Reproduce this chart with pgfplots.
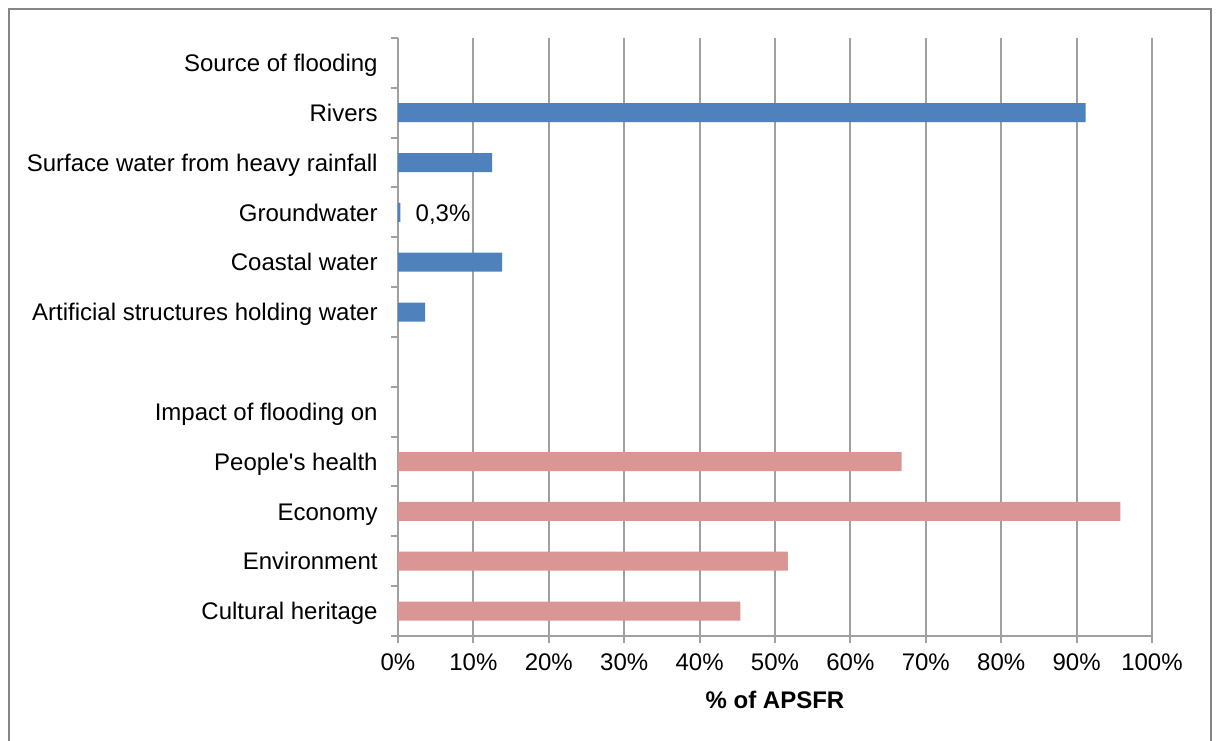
\documentclass[border=0pt]{standalone}
\usepackage{fontspec}
\setmainfont{Liberation Sans}
\usepackage{pgfplots}
\pgfplotsset{compat=1.18}
\definecolor{barblue}{RGB}{79,129,189}
\definecolor{barpink}{RGB}{217,150,148}
\definecolor{gridgray}{RGB}{160,160,160}
\definecolor{framegray}{RGB}{134,134,134}
\begin{document}
\begin{tikzpicture}
\useasboundingbox (0,0) rectangle (608.5pt,370pt);
\draw[framegray, line width=1pt] (4.5pt,-2pt) -- (4.5pt,365.25pt) -- (605.5pt,365.25pt) -- (605.5pt,-2pt);
\begin{axis}[
  at={(199pt,52pt)}, anchor=south west,
  scale only axis, width=377pt, height=299pt,
  xmin=0, xmax=100, ymin=-0.5, ymax=11.5,
  axis x line*=bottom, axis y line*=left,
  axis line style={gridgray, line width=1pt},
  xtick={0,10,...,100},
  xticklabels={0\%,10\%,20\%,30\%,40\%,50\%,60\%,70\%,80\%,90\%,100\%},
  minor xtick={0,10,...,100},
  ytick={0,1,...,11},
  yticklabels={Cultural heritage, Environment, Economy, People\textquotesingle s health, Impact of flooding on, {}, Artificial structures holding water, Coastal water, Groundwater, Surface water from heavy rainfall, Rivers, Source of flooding},
  minor ytick={-0.5,0.5,1.5,2.5,3.5,4.5,5.5,6.5,7.5,8.5,9.5,10.5,11.5},
  major tick length=0pt, minor tick length=3.5pt,
  tick align=outside,
  tick style={gridgray, line width=1pt},
  minor tick style={gridgray, line width=1pt},
  xmajorgrids, major grid style={gridgray, line width=1pt},
  xticklabel style={anchor=base, inner sep=0pt, yshift=-17.5pt, font=\fontsize{12}{14}\selectfont},
  yticklabel style={anchor=east, inner sep=0pt, xshift=-10pt, text height=8.6pt, text depth=0pt, font=\fontsize{12}{14}\selectfont},
  xlabel={\% of APSFR},
  xlabel style={at={(axis description cs:0.5,0)}, anchor=base, inner sep=0pt, yshift=-36.5pt, font=\fontsize{12}{14}\selectfont\bfseries},
]
\addplot[xbar, bar width=9.5pt, bar shift=0pt, fill=barblue, draw=none] coordinates {(91.2,10) (12.5,9) (0.3,8) (13.8,7) (3.6,6)};
\addplot[xbar, bar width=9.5pt, bar shift=0pt, fill=barpink, draw=none] coordinates {(66.8,3) (95.8,2) (51.7,1) (45.4,0)};
\addplot[xbar, bar width=9.5pt, bar shift=0pt, fill=barblue, draw=none, nodes near coords={0,3\%}, every node near coord/.append style={anchor=west, inner sep=0pt, xshift=7.5pt, text height=8.6pt, text depth=0pt, font=\fontsize{12}{14}\selectfont, text=black}] coordinates {(0.3,8)};
\end{axis}
\end{tikzpicture}
\end{document}
